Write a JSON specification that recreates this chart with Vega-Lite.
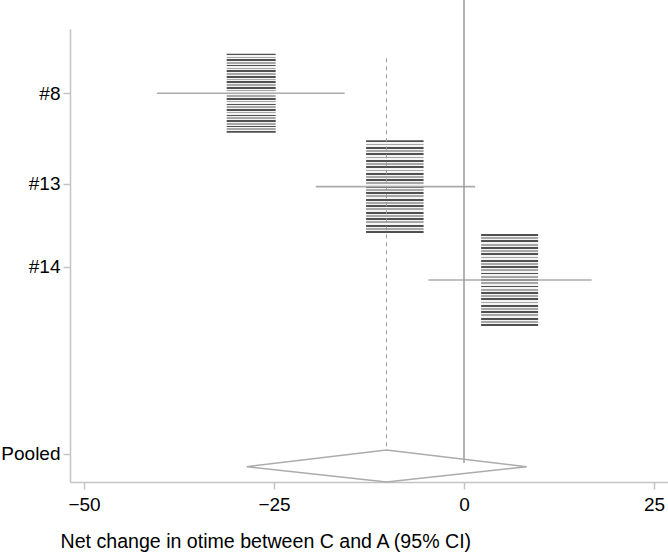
{
  "$schema": "https://vega.github.io/schema/vega-lite/v6.json",
  "width": 598,
  "height": 453,
  "autosize": {"type": "none"},
  "padding": {"left": 70, "top": 29, "right": 0, "bottom": 73},
  "background": "#ffffff",
  "config": {
    "view": {"stroke": null},
    "font": "Liberation Sans",
    "axis": {
      "grid": false,
      "domainColor": "#c4c4c4",
      "domainWidth": 1.5,
      "tickColor": "#c4c4c4",
      "tickWidth": 1.5,
      "tickSize": 7,
      "labelFont": "Liberation Sans",
      "labelFontSize": 19,
      "labelColor": "#000000",
      "titleFont": "Liberation Sans",
      "titleFontSize": 19.6,
      "titleFontWeight": "normal",
      "titleColor": "#000000"
    }
  },
  "datasets": {
    "studies": [
      {"study": "#8", "pos": 1, "est": -28.0, "lo": -40.4, "hi": -15.7, "weight": 26.8},
      {"study": "#13", "pos": 2, "est": -9.1, "lo": -19.5, "hi": 1.45, "weight": 36.9},
      {"study": "#14", "pos": 3, "est": 6.0, "lo": -4.7, "hi": 16.8, "weight": 36.3},
      {"study": "Pooled", "pos": 5, "est": -10.2, "lo": -28.6, "hi": 8.25, "weight": 100}
    ],
    "diamond": [
      {"v": 1, "dx": -28.6, "dpos": 5.0},
      {"v": 2, "dx": -10.2, "dpos": 4.821},
      {"v": 3, "dx": 8.25, "dpos": 5.0},
      {"v": 4, "dx": -10.2, "dpos": 5.164},
      {"v": 5, "dx": -28.6, "dpos": 5.0}
    ]
  },
  "layer": [
    {
      "data": {"name": "studies"},
      "transform": [{"filter": "datum.study !== 'Pooled'"}],
      "mark": {
        "type": "point",
        "filled": true,
        "opacity": 1,
        "strokeWidth": 0,
        "shape": "M-0.62,-1H0.62V1H-0.62Z",
        "fill": {
          "gradient": "linear", "x1": 0, "y1": 0, "x2": 0, "y2": 1,
          "stops": [
            {"offset": 0, "color": "#505050"}, {"offset": 0.02, "color": "#505050"}, {"offset": 0.02, "color": "#f4f4f4"}, {"offset": 0.035, "color": "#f4f4f4"}, {"offset": 0.035, "color": "#a8a8a8"}, {"offset": 0.055, "color": "#a8a8a8"}, {"offset": 0.055, "color": "#f4f4f4"}, {"offset": 0.07, "color": "#f4f4f4"},
            {"offset": 0.07, "color": "#505050"}, {"offset": 0.09, "color": "#505050"}, {"offset": 0.09, "color": "#f4f4f4"}, {"offset": 0.105, "color": "#f4f4f4"}, {"offset": 0.105, "color": "#a8a8a8"}, {"offset": 0.125, "color": "#a8a8a8"}, {"offset": 0.125, "color": "#f4f4f4"}, {"offset": 0.14, "color": "#f4f4f4"},
            {"offset": 0.14, "color": "#505050"}, {"offset": 0.16, "color": "#505050"}, {"offset": 0.16, "color": "#f4f4f4"}, {"offset": 0.175, "color": "#f4f4f4"}, {"offset": 0.175, "color": "#a8a8a8"}, {"offset": 0.195, "color": "#a8a8a8"}, {"offset": 0.195, "color": "#f4f4f4"}, {"offset": 0.21, "color": "#f4f4f4"},
            {"offset": 0.21, "color": "#505050"}, {"offset": 0.23, "color": "#505050"}, {"offset": 0.23, "color": "#f4f4f4"}, {"offset": 0.245, "color": "#f4f4f4"}, {"offset": 0.245, "color": "#a8a8a8"}, {"offset": 0.265, "color": "#a8a8a8"}, {"offset": 0.265, "color": "#f4f4f4"}, {"offset": 0.28, "color": "#f4f4f4"},
            {"offset": 0.28, "color": "#505050"}, {"offset": 0.30, "color": "#505050"}, {"offset": 0.30, "color": "#f4f4f4"}, {"offset": 0.315, "color": "#f4f4f4"}, {"offset": 0.315, "color": "#a8a8a8"}, {"offset": 0.335, "color": "#a8a8a8"}, {"offset": 0.335, "color": "#f4f4f4"}, {"offset": 0.35, "color": "#f4f4f4"},
            {"offset": 0.35, "color": "#505050"}, {"offset": 0.37, "color": "#505050"}, {"offset": 0.37, "color": "#f4f4f4"}, {"offset": 0.385, "color": "#f4f4f4"}, {"offset": 0.385, "color": "#a8a8a8"}, {"offset": 0.405, "color": "#a8a8a8"}, {"offset": 0.405, "color": "#f4f4f4"}, {"offset": 0.42, "color": "#f4f4f4"},
            {"offset": 0.42, "color": "#505050"}, {"offset": 0.44, "color": "#505050"}, {"offset": 0.44, "color": "#f4f4f4"}, {"offset": 0.455, "color": "#f4f4f4"}, {"offset": 0.455, "color": "#a8a8a8"}, {"offset": 0.475, "color": "#a8a8a8"}, {"offset": 0.475, "color": "#f4f4f4"}, {"offset": 0.49, "color": "#f4f4f4"},
            {"offset": 0.49, "color": "#505050"}, {"offset": 0.51, "color": "#505050"}, {"offset": 0.51, "color": "#f4f4f4"}, {"offset": 0.525, "color": "#f4f4f4"}, {"offset": 0.525, "color": "#a8a8a8"}, {"offset": 0.545, "color": "#a8a8a8"}, {"offset": 0.545, "color": "#f4f4f4"}, {"offset": 0.56, "color": "#f4f4f4"},
            {"offset": 0.56, "color": "#505050"}, {"offset": 0.58, "color": "#505050"}, {"offset": 0.58, "color": "#f4f4f4"}, {"offset": 0.595, "color": "#f4f4f4"}, {"offset": 0.595, "color": "#a8a8a8"}, {"offset": 0.615, "color": "#a8a8a8"}, {"offset": 0.615, "color": "#f4f4f4"}, {"offset": 0.63, "color": "#f4f4f4"},
            {"offset": 0.63, "color": "#505050"}, {"offset": 0.65, "color": "#505050"}, {"offset": 0.65, "color": "#f4f4f4"}, {"offset": 0.665, "color": "#f4f4f4"}, {"offset": 0.665, "color": "#a8a8a8"}, {"offset": 0.685, "color": "#a8a8a8"}, {"offset": 0.685, "color": "#f4f4f4"}, {"offset": 0.70, "color": "#f4f4f4"},
            {"offset": 0.70, "color": "#505050"}, {"offset": 0.72, "color": "#505050"}, {"offset": 0.72, "color": "#f4f4f4"}, {"offset": 0.735, "color": "#f4f4f4"}, {"offset": 0.735, "color": "#a8a8a8"}, {"offset": 0.755, "color": "#a8a8a8"}, {"offset": 0.755, "color": "#f4f4f4"}, {"offset": 0.77, "color": "#f4f4f4"},
            {"offset": 0.77, "color": "#505050"}, {"offset": 0.79, "color": "#505050"}, {"offset": 0.79, "color": "#f4f4f4"}, {"offset": 0.805, "color": "#f4f4f4"}, {"offset": 0.805, "color": "#a8a8a8"}, {"offset": 0.825, "color": "#a8a8a8"}, {"offset": 0.825, "color": "#f4f4f4"}, {"offset": 0.84, "color": "#f4f4f4"},
            {"offset": 0.84, "color": "#505050"}, {"offset": 0.86, "color": "#505050"}, {"offset": 0.86, "color": "#f4f4f4"}, {"offset": 0.875, "color": "#f4f4f4"}, {"offset": 0.875, "color": "#a8a8a8"}, {"offset": 0.895, "color": "#a8a8a8"}, {"offset": 0.895, "color": "#f4f4f4"}, {"offset": 0.91, "color": "#f4f4f4"},
            {"offset": 0.91, "color": "#505050"}, {"offset": 0.93, "color": "#505050"}, {"offset": 0.93, "color": "#f4f4f4"}, {"offset": 0.945, "color": "#f4f4f4"}, {"offset": 0.945, "color": "#a8a8a8"}, {"offset": 0.965, "color": "#a8a8a8"}, {"offset": 0.965, "color": "#f4f4f4"}, {"offset": 0.98, "color": "#f4f4f4"},
            {"offset": 0.98, "color": "#505050"}, {"offset": 1, "color": "#505050"}
          ]
        }
      },
      "encoding": {
        "x": {
          "field": "est", "type": "quantitative",
          "scale": {"domain": [-51.84, 26.84], "nice": false, "zero": false},
          "axis": {
            "values": [-50, -25, 0, 25],
            "labelPadding": 6,
            "title": "Net change in otime between C and A (95% CI)",
            "titleX": -10,
            "titleY": 65,
            "titleAlign": "left",
            "titleAnchor": "start",
            "titleBaseline": "alphabetic"
          }
        },
        "y": {
          "field": "pos", "type": "quantitative",
          "scale": {"domain": [0.311, 5.164], "nice": false, "zero": false, "reverse": true},
          "axis": {
            "values": [1, 1.97, 2.86, 4.86],
            "labelPadding": 3,
            "title": null,
            "labelExpr": "datum.value < 1.5 ? '#8' : datum.value < 2.5 ? '#13' : datum.value < 3.5 ? '#14' : 'Pooled'"
          }
        },
        "size": {
          "field": "weight", "type": "quantitative",
          "scale": {"domain": [0, 100], "range": [0, 23298], "zero": true},
          "legend": null
        }
      }
    },
    {
      "data": {"name": "studies"},
      "transform": [{"filter": "datum.study !== 'Pooled'"}],
      "mark": {"type": "rule", "color": "#acacac", "strokeWidth": 1.6},
      "encoding": {
        "x": {"field": "lo", "type": "quantitative", "scale": {"domain": [-51.84, 26.84], "nice": false, "zero": false}},
        "x2": {"field": "hi"},
        "y": {"field": "pos", "type": "quantitative", "scale": {"domain": [0.311, 5.164], "nice": false, "zero": false, "reverse": true}}
      }
    },
    {
      "data": {"values": [{"ref": 0}]},
      "mark": {"type": "rule", "color": "#9a9a9a", "strokeWidth": 1.5},
      "encoding": {
        "x": {"field": "ref", "type": "quantitative", "scale": {"domain": [-51.84, 26.84], "nice": false, "zero": false}},
        "y": {"datum": 0.0, "type": "quantitative", "scale": {"domain": [0.311, 5.164], "nice": false, "zero": false, "reverse": true}},
        "y2": {"datum": 4.96}
      }
    },
    {
      "data": {"name": "studies"},
      "transform": [{"filter": "datum.study === 'Pooled'"}],
      "mark": {"type": "rule", "color": "#9a9a9a", "strokeWidth": 1, "strokeDash": [4, 4]},
      "encoding": {
        "x": {"field": "est", "type": "quantitative", "scale": {"domain": [-51.84, 26.84], "nice": false, "zero": false}},
        "y": {"datum": 0.625, "type": "quantitative", "scale": {"domain": [0.311, 5.164], "nice": false, "zero": false, "reverse": true}},
        "y2": {"datum": 4.821}
      }
    },
    {
      "data": {"name": "diamond"},
      "mark": {"type": "line", "color": "#acacac", "strokeWidth": 1.5},
      "encoding": {
        "x": {"field": "dx", "type": "quantitative", "scale": {"domain": [-51.84, 26.84], "nice": false, "zero": false}},
        "y": {"field": "dpos", "type": "quantitative", "scale": {"domain": [0.311, 5.164], "nice": false, "zero": false, "reverse": true}},
        "order": {"field": "v", "type": "quantitative"}
      }
    }
  ]
}
